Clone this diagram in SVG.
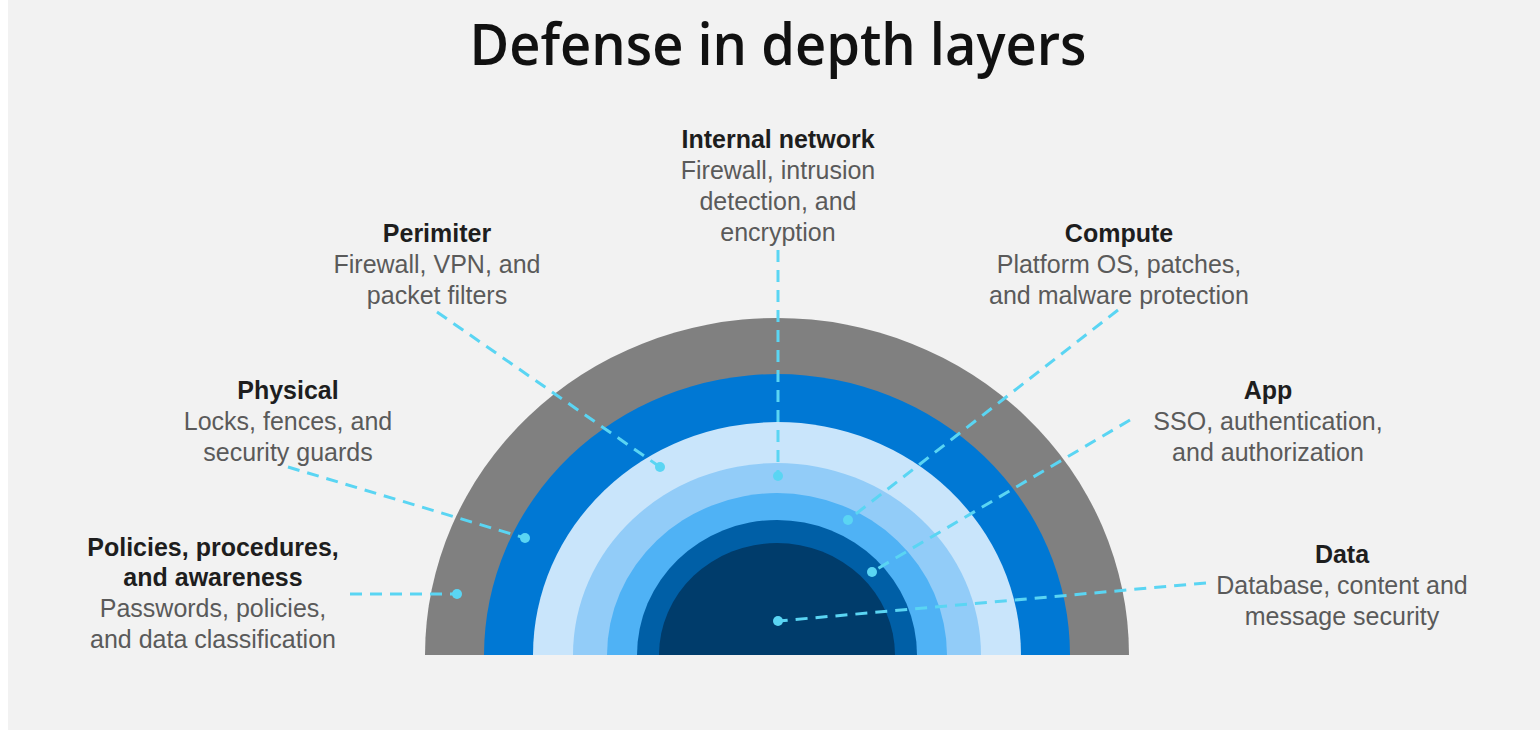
<svg xmlns="http://www.w3.org/2000/svg" width="1540" height="744" viewBox="0 0 1540 744">
<defs>
<style>
.h{font-family:"Liberation Sans",Arial,sans-serif;font-weight:bold;font-size:25px;fill:#1e1e1e;text-anchor:middle}
.d{font-family:"Liberation Sans",Arial,sans-serif;font-size:25px;fill:#5a5a5a;text-anchor:middle}
.c{fill:none;stroke:#5ad5f3;stroke-width:3;stroke-dasharray:12 8}
.dot{fill:#5ad5f3}
</style>
</defs>
<rect x="0" y="0" width="1540" height="744" fill="#ffffff"/>
<rect x="8" y="0" width="1532" height="730" fill="#f2f2f2"/>
<text id="title" x="778" y="65" font-family="'Open Sans','Noto Sans',sans-serif" font-weight="600" font-size="58" fill="#111" text-anchor="middle" textLength="617" lengthAdjust="spacingAndGlyphs">Defense in depth layers</text>
<g id="rings">
<path id="ring-policies" d="M425,655 A352,337 0 0 1 1129,655 Z" fill="#808080"/>
<path id="ring-physical" d="M484,655 A293,281 0 0 1 1070,655 Z" fill="#0078d4"/>
<path id="ring-perimeter" d="M533,655 A244,233 0 0 1 1021,655 Z" fill="#c9e5fb"/>
<path id="ring-internal" d="M573,655 A204,192 0 0 1 981,655 Z" fill="#92ccf8"/>
<path id="ring-compute" d="M607,655 A170,162 0 0 1 947,655 Z" fill="#4fb2f5"/>
<path id="ring-app" d="M637,655 A140,135 0 0 1 917,655 Z" fill="#005fa6"/>
<path id="ring-data" d="M659,655 A118,112 0 0 1 895,655 Z" fill="#003c6b"/>
</g>
<g id="connectors">
<line class="c" x1="778" y1="250" x2="778" y2="476"/>
<line class="c" x1="437" y1="312" x2="660" y2="467"/>
<line class="c" x1="288" y1="467" x2="525" y2="538"/>
<line class="c" x1="350" y1="594" x2="457" y2="594"/>
<line class="c" x1="1118" y1="310" x2="848" y2="520"/>
<line class="c" x1="1130" y1="420" x2="872" y2="572"/>
<line class="c" x1="1206" y1="583" x2="778" y2="621"/>
<circle class="dot" cx="778" cy="476" r="5"/>
<circle class="dot" cx="660" cy="467" r="5"/>
<circle class="dot" cx="525" cy="538" r="5"/>
<circle class="dot" cx="457" cy="594" r="5"/>
<circle class="dot" cx="848" cy="520" r="5"/>
<circle class="dot" cx="872" cy="572" r="5"/>
<circle class="dot" cx="778" cy="621" r="5"/>
</g>
<g id="internal-network">
<text class="h" x="778" y="148">Internal network</text>
<text class="d" x="778" y="179">Firewall, intrusion</text>
<text class="d" x="778" y="210">detection, and</text>
<text class="d" x="778" y="241">encryption</text>
</g>
<g id="perimiter">
<text class="h" x="437" y="242">Perimiter</text>
<text class="d" x="437" y="273">Firewall, VPN, and</text>
<text class="d" x="437" y="304">packet filters</text>
</g>
<g id="compute">
<text class="h" x="1119" y="242">Compute</text>
<text class="d" x="1119" y="273">Platform OS, patches,</text>
<text class="d" x="1119" y="304">and malware protection</text>
</g>
<g id="physical">
<text class="h" x="288" y="399">Physical</text>
<text class="d" x="288" y="430">Locks, fences, and</text>
<text class="d" x="288" y="461">security guards</text>
</g>
<g id="app">
<text class="h" x="1268" y="399">App</text>
<text class="d" x="1268" y="430">SSO, authentication,</text>
<text class="d" x="1268" y="461">and authorization</text>
</g>
<g id="policies">
<text class="h" x="213" y="556">Policies, procedures,</text>
<text class="h" x="213" y="586">and awareness</text>
<text class="d" x="213" y="617">Passwords, policies,</text>
<text class="d" x="213" y="648">and data classification</text>
</g>
<g id="data">
<text class="h" x="1342" y="563">Data</text>
<text class="d" x="1342" y="594">Database, content and</text>
<text class="d" x="1342" y="625">message security</text>
</g>
</svg>
